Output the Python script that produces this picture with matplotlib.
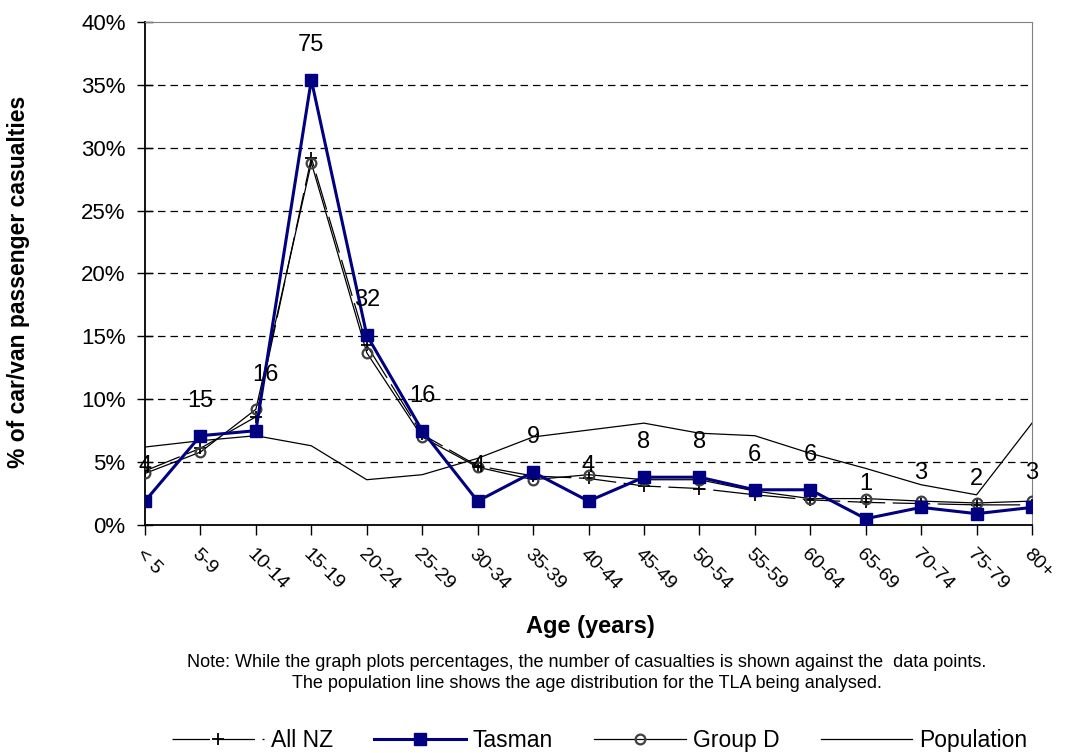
import matplotlib.pyplot as plt
import matplotlib.ticker as mtick

# age groups
ages = ["< 5", "5-9", "10-14", "15-19", "20-24", "25-29", "30-34", "35-39", "40-44",
        "45-49", "50-54", "55-59", "60-64", "65-69", "70-74", "75-79", "80+"]

# number of casualties in Tasman (labels on points)
tasman_counts = [4, 15, 16, 75, 32, 16, 4, 9, 4, 8, 8, 6, 6, 1, 3, 2, 3]

# % of casualties
tasman = [1.9, 7.1, 7.5, 35.4, 15.1, 7.5, 1.9, 4.2, 1.9, 3.8, 3.8, 2.8, 2.8, 0.5, 1.4, 0.9, 1.4]
all_nz = [4.3, 6.1, 8.6, 29.2, 14.3, 7.2, 4.7, 3.9, 3.7, 3.1, 2.9, 2.4, 2.0, 1.8, 1.7, 1.6, 1.6]
group_d = [4.1, 5.8, 9.2, 28.8, 13.7, 7.0, 4.6, 3.6, 4.0, 3.6, 3.6, 2.7, 2.1, 2.1, 1.9, 1.75, 1.9]
population = [6.2, 6.7, 7.1, 6.3, 3.6, 4.0, 5.3, 7.0, 7.55, 8.1, 7.3, 7.1, 5.7, 4.5, 3.2, 2.4, 8.1]

plt.rcParams['font.family'] = ['Liberation Sans', 'DejaVu Sans']

fig = plt.figure(figsize=(10.67, 7.53), dpi=100)
ax = fig.add_axes([0.1359, 0.3028, 0.8313, 0.668])

x = list(range(len(ages)))

ax.plot(x, all_nz, color='black', lw=0.9, ls=(0, (30, 6)), marker='+', ms=9, mew=1.3,
        label='All NZ', zorder=3)
ax.plot(x, tasman, color='#000080', lw=2.2, marker='s', ms=8, label='Tasman', zorder=5)
ax.plot(x, group_d, color='black', lw=0.9, marker='o', ms=7, mfc='none', mec='#404040',
        mew=1.6, label='Group D', zorder=4)
ax.plot(x, population, color='black', lw=0.9, label='Population', zorder=2)

# count labels above the Tasman points
for i, n in enumerate(tasman_counts):
    dx, dy = (7, 40) if i == 2 else (0, 25)
    ax.annotate(str(n), (x[i], tasman[i]), xytext=(dx, dy), textcoords='offset points',
                ha='center', va='center', fontsize=17, zorder=6)

ax.set_xlim(0, len(ages) - 1)
ax.set_ylim(0, 40)
ax.yaxis.set_major_locator(mtick.MultipleLocator(5))
ax.yaxis.set_major_formatter(mtick.PercentFormatter(decimals=0))
ax.set_xticks(x)
ax.set_xticklabels(ages, rotation=-45, ha='left', va='top', rotation_mode='anchor',
                   fontsize=14)
ax.tick_params(axis='x', direction='out', length=7, pad=8, width=1)
ax.tick_params(axis='y', direction='inout', length=12, labelsize=16, width=1, pad=8)

for yv in range(5, 40, 5):
    ax.axhline(yv, color='black', lw=0.9, ls=(0, (6, 4)), zorder=1)

ax.spines['left'].set_linewidth(1.3)
ax.spines['bottom'].set_linewidth(1.3)
ax.spines['top'].set_color('#808080')
ax.spines['right'].set_color('#808080')

fig.text(0.017, 0.625, '% of car/van passenger casualties', rotation=90, ha='center',
         va='center', fontsize=16.5, fontweight='bold')
fig.text(0.553, 0.168, 'Age (years)', ha='center', va='center', fontsize=17,
         fontweight='bold')
fig.text(0.55, 0.106, 'Note: While the graph plots percentages, the number of casualties is shown '
         'against the  data points.\nThe population line shows the age distribution for the '
         'TLA being analysed.', ha='center', va='center', fontsize=13, linespacing=1.3)

fig.legend(loc='center', bbox_to_anchor=(0.562, 0.017), ncol=4, frameon=False,
           prop={'size': 16.5}, handlelength=4.0, columnspacing=1.8,
           handletextpad=0.3)

fig.savefig('out.png', dpi=100)
